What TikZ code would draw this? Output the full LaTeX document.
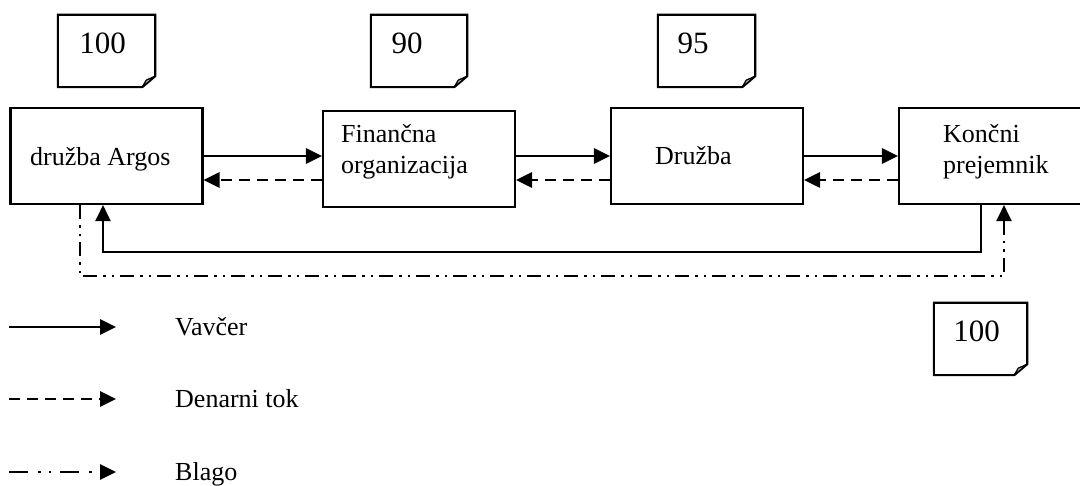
\documentclass[tikz,border=0pt]{standalone}
\usepackage{fontspec}
\setmainfont{Liberation Serif}
\usetikzlibrary{arrows.meta,calc}
\newcommand{\drawnote}[1]{%
  \draw[line width=2.1pt,line join=miter] (#1.north west) -- (#1.north east) -- ([yshift=11pt]#1.south east) -- ([xshift=-13pt]#1.south east) -- (#1.south west) -- cycle;
  \filldraw[line width=1.3pt,fill=gray!45,line join=round] ([yshift=11pt]#1.south east) -- ([xshift=-9pt,yshift=7pt]#1.south east) -- ([xshift=-13pt]#1.south east) -- cycle;}
\tikzset{
  box/.style={draw,line width=2.1pt,minimum width=192pt,minimum height=96pt,inner sep=0pt},
  notebox/.style={minimum height=72pt,inner sep=0pt},
  notetext/.style={font=\fontsize{31}{36}\selectfont,inner sep=0pt,anchor=base},
  lbl/.style={font=\fontsize{26}{31}\selectfont,inner sep=0pt},
  tip/.style={-{Triangle[length=16pt,width=15pt]}},
  vav/.style={tip,line width=2.8pt},
  vavthin/.style={tip,line width=2.1pt},
  den/.style={tip,line width=2.8pt,dash pattern=on 11pt off 7pt},
  blago/.style={tip,line width=2.1pt,dash pattern=on 14pt off 6pt on 2.5pt off 6pt on 2.5pt off 6pt},
  blagoleg/.style={tip,line width=2.8pt,dash pattern=on 19pt off 10pt on 2.5pt off 8pt on 2.5pt off 9pt}
}
\begin{document}
\begin{tikzpicture}[x=1pt,y=-1pt]
\useasboundingbox (0,0) rectangle (1080,486);
% boxes
\node[box] (A) at (106.5,156) {};
\node[box] (B) at (419,159) {};
\node[box] (C) at (707,156) {};
\node[box] (D) at (995,156) {};
\node[lbl,anchor=base west] (tA) at (30,166) {družba Argos};
\node[lbl,anchor=west,align=left] (tB) at (341,151.5) {Finančna\\organizacija};
\node[lbl,anchor=base west] (tC) at (655,165) {Družba};
\node[lbl,anchor=west,align=left] (tD) at (943,151.5) {Končni\\prejemnik};
% notes
\node[notebox,minimum width=97pt] (n1) at (106.5,51) {};
\node[notebox,minimum width=96pt] (n2) at (419,51) {};
\node[notebox,minimum width=97pt] (n3) at (706.5,51) {};
\node[notebox,minimum width=93pt] (n4) at (980.5,339) {};
\drawnote{n1}\drawnote{n2}\drawnote{n3}\drawnote{n4}
\node[notetext] (t1) at (102.5,54) {100};
\node[notetext] (t2) at (407,54) {90};
\node[notetext] (t3) at (693,54) {95};
\node[notetext] (t4) at (976.5,342) {100};
% horizontal connectors
\coordinate (y1) at (0,156);
\coordinate (y2) at (0,180);
\draw[vav] (y1 -| A.east) -- (y1 -| B.west);
\draw[den] (y2 -| B.west) -- (y2 -| A.east);
\draw[vav] (y1 -| B.east) -- (y1 -| C.west);
\draw[den] (y2 -| C.west) -- (y2 -| B.east);
\draw[vav] (y1 -| C.east) -- (y1 -| D.west);
\draw[den] (y2 -| D.west) -- (y2 -| C.east);
% return loops
\coordinate (s1) at (981,252);
\coordinate (s2) at (103,252);
\draw[vavthin,line join=miter] (s1 |- D.south) -- (s1) -- (s2) -- (s2 |- A.south);
\coordinate (b1) at (80,276);
\coordinate (b2) at (1004,276);
\draw[blago,line join=miter] (b1 |- A.south) -- (b1) -- (b2) -- (b2 |- D.south);
% legend
\coordinate (la1) at (9,327); \coordinate (la2) at (116,327);
\coordinate (lb1) at (9,399); \coordinate (lb2) at (116,399);
\coordinate (lc1) at (9,472); \coordinate (lc2) at (116,472);
\draw[vav] (la1) -- (la2);
\draw[den] (lb1) -- (lb2);
\draw[blagoleg] (lc1) -- (lc2);
\node[lbl,anchor=base west] (L1) at (175,336) {Vavčer};
\node[lbl,anchor=base west] (L2) at (175,408) {Denarni tok};
\node[lbl,anchor=base west] (L3) at (175,481) {Blago};
\end{tikzpicture}
\end{document}
